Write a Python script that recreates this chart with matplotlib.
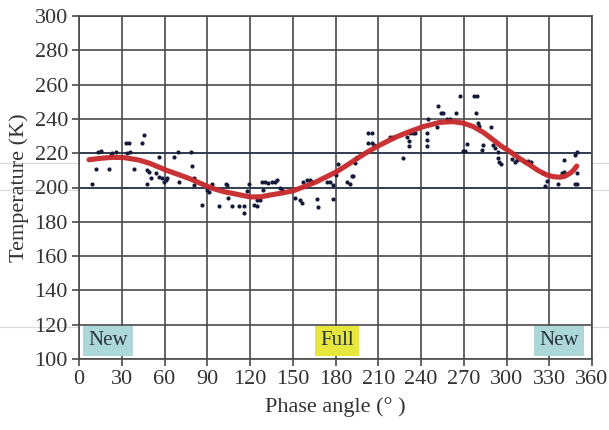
import numpy as np
import matplotlib.pyplot as plt
from matplotlib.lines import Line2D

# observed temperatures against lunar phase angle
phase = [9.4, 11.7, 13.4, 15.2, 21.0, 22.2, 23.4, 25.7, 32.8, 35.1, 34.0, 36.0,
         38.6, 44.4, 45.4, 47.9, 49.1, 50.3, 47.9, 53.8, 56.1, 58.5, 60.8, 62.0,
         59.6, 56.1, 66.7, 69.7, 70.2, 78.4, 79.1, 80.7, 80.7, 86.1, 90.0, 91.2,
         93.6, 98.3, 103.0, 104.0, 104.6, 107.6, 112.0, 115.8, 115.8, 118.1, 119.3,
         122.8, 124.7, 124.7, 127.1, 128.2, 130.5, 132.8, 135.2, 137.5, 138.7,
         129.3, 141.0, 142.3, 151.6, 155.1, 156.3, 157.5, 159.8, 162.1, 163.3,
         166.8, 168.0, 173.8, 176.1, 178.5, 178.0, 180.4, 182.0, 187.9, 190.2,
         191.4, 192.5, 194.4, 193.7, 203.0, 205.4, 203.0, 205.4, 207.0, 218.3,
         220.6, 227.2, 230.0, 232.3, 234.6, 235.8, 231.8, 231.8, 244.0, 244.0,
         244.0, 245.1, 251.0, 252.2, 253.8, 255.7, 258.0, 260.4, 264.6, 267.4,
         269.7, 270.9, 272.6, 277.2, 279.5, 278.4, 280.3, 281.0, 282.6, 283.8,
         289.1, 290.8, 292.0, 294.3, 294.3, 295.0, 296.0, 303.6, 306.0, 307.2,
         313.0, 315.3, 317.2, 325.9, 328.2, 327.0, 336.4, 338.8, 340.4, 340.4,
         348.0, 349.7, 349.3, 348.0, 349.3]
temp = [202.0, 210.6, 220.9, 221.5, 210.6, 219.0, 220.0, 220.5, 226.0, 226.0, 220.0, 220.5,
        210.6, 226.0, 230.6, 210.2, 209.2, 205.3, 202.0, 208.3, 206.3, 205.3, 204.4, 205.3,
        203.4, 217.6, 217.6, 220.9, 203.4, 220.9, 212.7, 205.3, 201.5, 189.8, 198.5, 197.6,
        202.0, 189.4, 202.0, 201.5, 193.7, 189.4, 189.4, 189.4, 185.0, 198.1, 202.0,
        189.8, 192.7, 189.2, 192.7, 203.4, 203.4, 202.4, 203.4, 203.4, 204.4,
        198.5, 199.5, 198.5, 193.7, 192.7, 190.8, 203.4, 204.4, 204.4, 203.4,
        193.3, 188.4, 203.4, 203.4, 201.5, 193.3, 207.3, 213.7, 203.4, 202.0,
        206.7, 206.7, 217.0, 214.1, 232.0, 232.0, 226.1, 225.8, 224.8, 229.3,
        229.3, 217.0, 229.3, 231.6, 232.0, 231.6, 227.3, 224.4, 231.6, 227.7,
        224.4, 239.8, 235.5, 247.5, 243.6, 243.6, 239.8, 239.8, 243.6, 253.4,
        221.5, 221.5, 225.4, 253.4, 253.4, 243.6, 237.4, 235.9, 221.9, 224.8,
        235.5, 224.8, 222.9, 220.9, 217.0, 215.0, 213.7, 216.4, 215.0, 216.0,
        215.0, 215.6, 215.0, 208.6, 203.8, 200.9, 201.9, 208.6, 209.2, 216.0,
        202.0, 202.0, 208.3, 219.0, 220.9]

# fitted curve
fit_phase = [7, 15, 23.4, 32, 42.1, 50, 60.8, 70, 77.2, 85, 93.6, 102, 110, 120, 128,
             134, 142, 150.4, 158, 166.8, 173, 180.8, 189, 197.2, 203, 208.9, 216,
             223, 232, 241.6, 253.4, 262.7, 270, 276.7, 284, 290.8, 296, 302.5, 309,
             316.5, 322, 328.2, 333, 337.6, 341, 344.6, 347, 349.3]
fit_temp = [216.2, 217.0, 217.6, 217.4, 216.0, 214.0, 210.2, 207.5, 205.3, 202.5, 199.5,
            197.5, 196.2, 194.5, 194.6, 195.6, 196.7, 198.1, 200.5, 203.4, 206.0, 209.2,
            213.5, 218.0, 221.0, 223.8, 226.8, 229.6, 232.6, 235.5, 238.0, 238.4, 237.5,
            235.5, 232.0, 227.7, 224.3, 220.9, 217.0, 213.1, 210.0, 207.3, 206.3, 206.0,
            206.6, 208.3, 210.0, 212.5]

# moon phase tags
tag_text = ['New', 'Full', 'New']
tag_x = [20.5, 181, 337]
tag_color = ['#acd8d8', '#e6e63c', '#acd8d8']

plt.rcParams['font.family'] = ['Liberation Serif', 'DejaVu Serif']
text_color = '#333333'

fig = plt.figure(figsize=(6.09, 4.30), dpi=100)
ax = fig.add_axes([79 / 609, 1 - 359 / 430, 513 / 609, 343 / 430])

ax.set_xlim(0, 360)
ax.set_ylim(100, 300)
ax.set_xticks(np.arange(0, 361, 30))
ax.set_yticks(np.arange(100, 301, 20))
ax.grid(True, color='#4a4a4a', lw=1.2)
ax.set_axisbelow(True)
for s in ax.spines.values():
    s.set_color('#4a4a4a')
    s.set_linewidth(1.2)
ax.tick_params(length=5, width=1.2, color='#4a4a4a', labelsize=16,
               labelcolor=text_color, pad=3)

# the 200 and 220 rows are drawn a shade darker
for y in (200, 220):
    ax.axhline(y, color='#2e3a50', lw=1.2, zorder=1)

ax.scatter(phase, temp, s=9, color='#141a3a', zorder=3, linewidths=0)
ax.plot(fit_phase, fit_temp, color='#c8282a', lw=3.7, alpha=0.95,
        solid_capstyle='round', zorder=4)

for t, x, c in zip(tag_text, tag_x, tag_color):
    ax.text(x, 110.5, t, ha='center', va='center', fontsize=15, color='#2a3440',
            zorder=5, bbox=dict(boxstyle='square,pad=0.25', fc=c, ec='none'))

ax.set_xlabel('Phase angle (° )', fontsize=16, color=text_color, labelpad=6)
ax.set_ylabel('Temperature (K)', fontsize=16, color=text_color, labelpad=4)

# faint horizontal streaks across the whole figure
for py in (163, 190, 327):
    fig.add_artist(Line2D([0, 1], [1 - py / 430] * 2, color='#d8d8d8', lw=0.8,
                          transform=fig.transFigure, zorder=0))

fig.savefig('out.png', dpi=100)
